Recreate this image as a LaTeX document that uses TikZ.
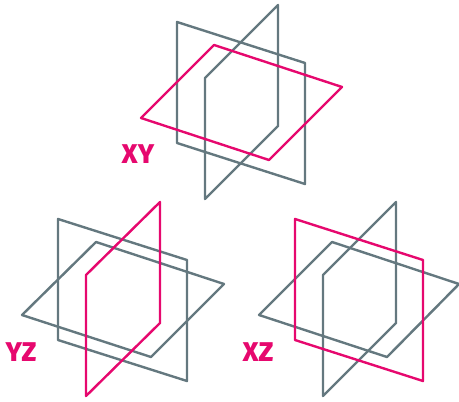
\documentclass[tikz,border=0pt]{standalone}
\usepackage{fontspec}
\setmainfont[BoldFont={Fira Sans ExtraBold}]{Fira Sans}
\definecolor{planegray}{HTML}{64787F}
\definecolor{planepink}{HTML}{E6086E}
\begin{document}
\begin{tikzpicture}[
    x=0.01cm, y=-0.01cm,
    grayplane/.style={draw=planegray, line width=0.024cm, line join=round},
    pinkplane/.style={draw=planepink, line width=0.024cm, line join=round},
    planelabel/.style={text=planepink, font=\fontsize{7.7pt}{7.7pt}\selectfont\bfseries, inner sep=0pt}
]
\useasboundingbox (0,0) rectangle (459,401);
% XY
\draw[grayplane] (177,22) -- (305,63) -- (305,184) -- (177,143) -- cycle;
\draw[grayplane] (278,5) -- (278,126) -- (205,199) -- (205,78) -- cycle;
\draw[pinkplane] (214,45) -- (342,87) -- (269,160) -- (141,118) -- cycle;
\node[planelabel] (xy) at (138,154) {XY};
% YZ
\draw[grayplane] (58,219) -- (187,260) -- (187,381) -- (58,340) -- cycle;
\draw[grayplane] (96,242) -- (224,284) -- (151,357) -- (22,315) -- cycle;
\draw[pinkplane] (160,202) -- (160,323) -- (86,396) -- (86,275) -- cycle;
\node[planelabel] (yz) at (21,352) {YZ};
% XZ
\draw[grayplane] (396,202) -- (396,323) -- (323,396) -- (323,275) -- cycle;
\draw[grayplane] (332,242) -- (459,284) -- (387,357) -- (259,315) -- cycle;
\draw[pinkplane] (295,219) -- (423,260) -- (423,381) -- (295,340) -- cycle;
\node[planelabel] (xz) at (258,352) {XZ};
\end{tikzpicture}
\end{document}
